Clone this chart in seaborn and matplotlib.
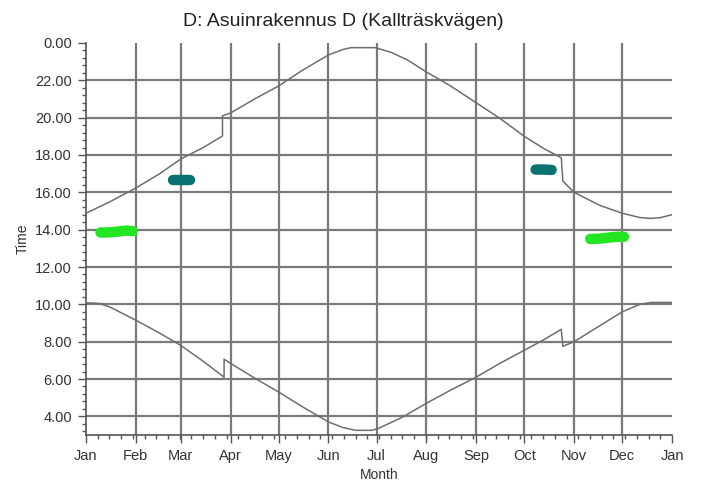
import matplotlib
matplotlib.use("Agg")
import matplotlib.pyplot as plt
import seaborn as sns
import numpy as np
import pandas as pd

# day of year vs. time of day (hours), jumps are the daylight saving switches
sunset_day = [0, 15, 31, 45, 59, 73, 85, 85, 90, 105, 120, 135, 151, 160, 165, 180,
              190, 200, 212, 227, 243, 258, 273, 285, 296, 297, 304, 320, 334, 345, 352, 358, 365]
sunset_time = [14.88, 15.5, 16.23, 16.95, 17.78, 18.4, 19.02, 20.1, 20.25, 21.0, 21.7, 22.55,
               23.36, 23.65, 23.75, 23.75, 23.5, 23.1, 22.45, 21.7, 20.8, 19.95, 19.0, 18.35,
               17.85, 16.6, 16.0, 15.3, 14.88, 14.65, 14.6, 14.65, 14.8]

sunrise_day = [0, 8, 15, 31, 45, 59, 73, 86, 86, 90, 105, 120, 135, 151, 160, 168, 178, 182,
               197, 212, 227, 243, 258, 273, 285, 296, 297, 304, 319, 334, 345, 352, 365]
sunrise_time = [10.08, 10.05, 9.85, 9.15, 8.5, 7.8, 6.95, 6.1, 7.06, 6.84, 6.05, 5.3, 4.5,
                3.7, 3.4, 3.25, 3.25, 3.35, 3.95, 4.7, 5.4, 6.1, 6.85, 7.54, 8.1, 8.66, 7.75,
                8.0, 8.8, 9.6, 10.0, 10.1, 10.1]

# sun reflection periods (day range, time)
spring_green_day = [9, 14, 20, 25, 29]
spring_green_time = [13.85, 13.85, 13.9, 13.95, 13.92]
spring_teal_day = [54, 59, 65]
spring_teal_time = [16.65, 16.65, 16.65]
autumn_teal_day = [280, 285, 290]
autumn_teal_time = [17.22, 17.22, 17.2]
autumn_green_day = [314, 320, 326, 331, 335]
autumn_green_time = [13.5, 13.52, 13.58, 13.62, 13.62]

month_starts = [0, 31, 59, 90, 120, 151, 181, 212, 243, 273, 304, 334, 365]
month_labels = ["Jan", "Feb", "Mar", "Apr", "May", "Jun", "Jul", "Aug", "Sep", "Oct",
                "Nov", "Dec", "Jan"]
hour_ticks = [4, 6, 8, 10, 12, 14, 16, 18, 20, 22, 24]

sns.set_style("white")
plt.rcParams['font.family'] = ['Liberation Sans', 'DejaVu Sans']

fig = plt.figure(figsize=(7.01, 4.82), dpi=100)
ax = fig.add_axes([0.1227, 0.0975, 0.836, 0.8133])

grid_col = "#7a7a7a"
for d in month_starts[1:-1]:
    ax.axvline(d, color=grid_col, lw=1.6, zorder=1)
for h in hour_ticks[:-1]:
    ax.axhline(h, color=grid_col, lw=1.6, zorder=1)

curve_col = "#6e6e6e"
sns.lineplot(x=sunset_day, y=sunset_time, estimator=None, sort=False, color=curve_col,
             lw=1.1, ax=ax, zorder=3)
sns.lineplot(x=sunrise_day, y=sunrise_time, estimator=None, sort=False, color=curve_col,
             lw=1.1, ax=ax, zorder=3)

green = "#22e622"
teal = "#0b7272"
for dd, tt, c in [(spring_green_day, spring_green_time, green),
                  (spring_teal_day, spring_teal_time, teal),
                  (autumn_teal_day, autumn_teal_time, teal),
                  (autumn_green_day, autumn_green_time, green)]:
    sns.lineplot(x=dd, y=tt, estimator=None, sort=False, color=c, lw=7.5,
                 solid_capstyle="round", ax=ax, zorder=4)

ax.set_xlim(0, 365)
ax.set_ylim(3.0, 24.0)
ax.set_xticks(month_starts)
ax.set_xticklabels(month_labels, fontsize=10.5, color="#333333")
ax.set_xticks(np.arange(0, 366, 7.3), minor=True)
ax.set_yticks(hour_ticks)
ax.set_yticklabels([f"{h % 24:.2f}" for h in hour_ticks], fontsize=10.5, color="#333333")
ax.set_yticks(np.arange(3.2, 24, 0.4), minor=True)
ax.tick_params(axis="both", which="major", length=6, width=1, color="#555555",
               bottom=True, left=True, pad=4)
ax.tick_params(axis="both", which="minor", length=3, width=1, color="#555555",
               bottom=True, left=True)

for s in ["top", "right"]:
    ax.spines[s].set_visible(False)
for s in ["left", "bottom"]:
    ax.spines[s].set_color("#555555")
    ax.spines[s].set_linewidth(1.2)

ax.set_xlabel("Month", fontsize=10, color="#333333", labelpad=4)
ax.set_ylabel("Time", fontsize=10, color="#333333", labelpad=4)
fig.text(0.49, 0.955, "D: Asuinrakennus D (Kallträskvägen)", ha="center", va="center",
         fontsize=14, color="#222222")

fig.savefig("out.png", dpi=100)
